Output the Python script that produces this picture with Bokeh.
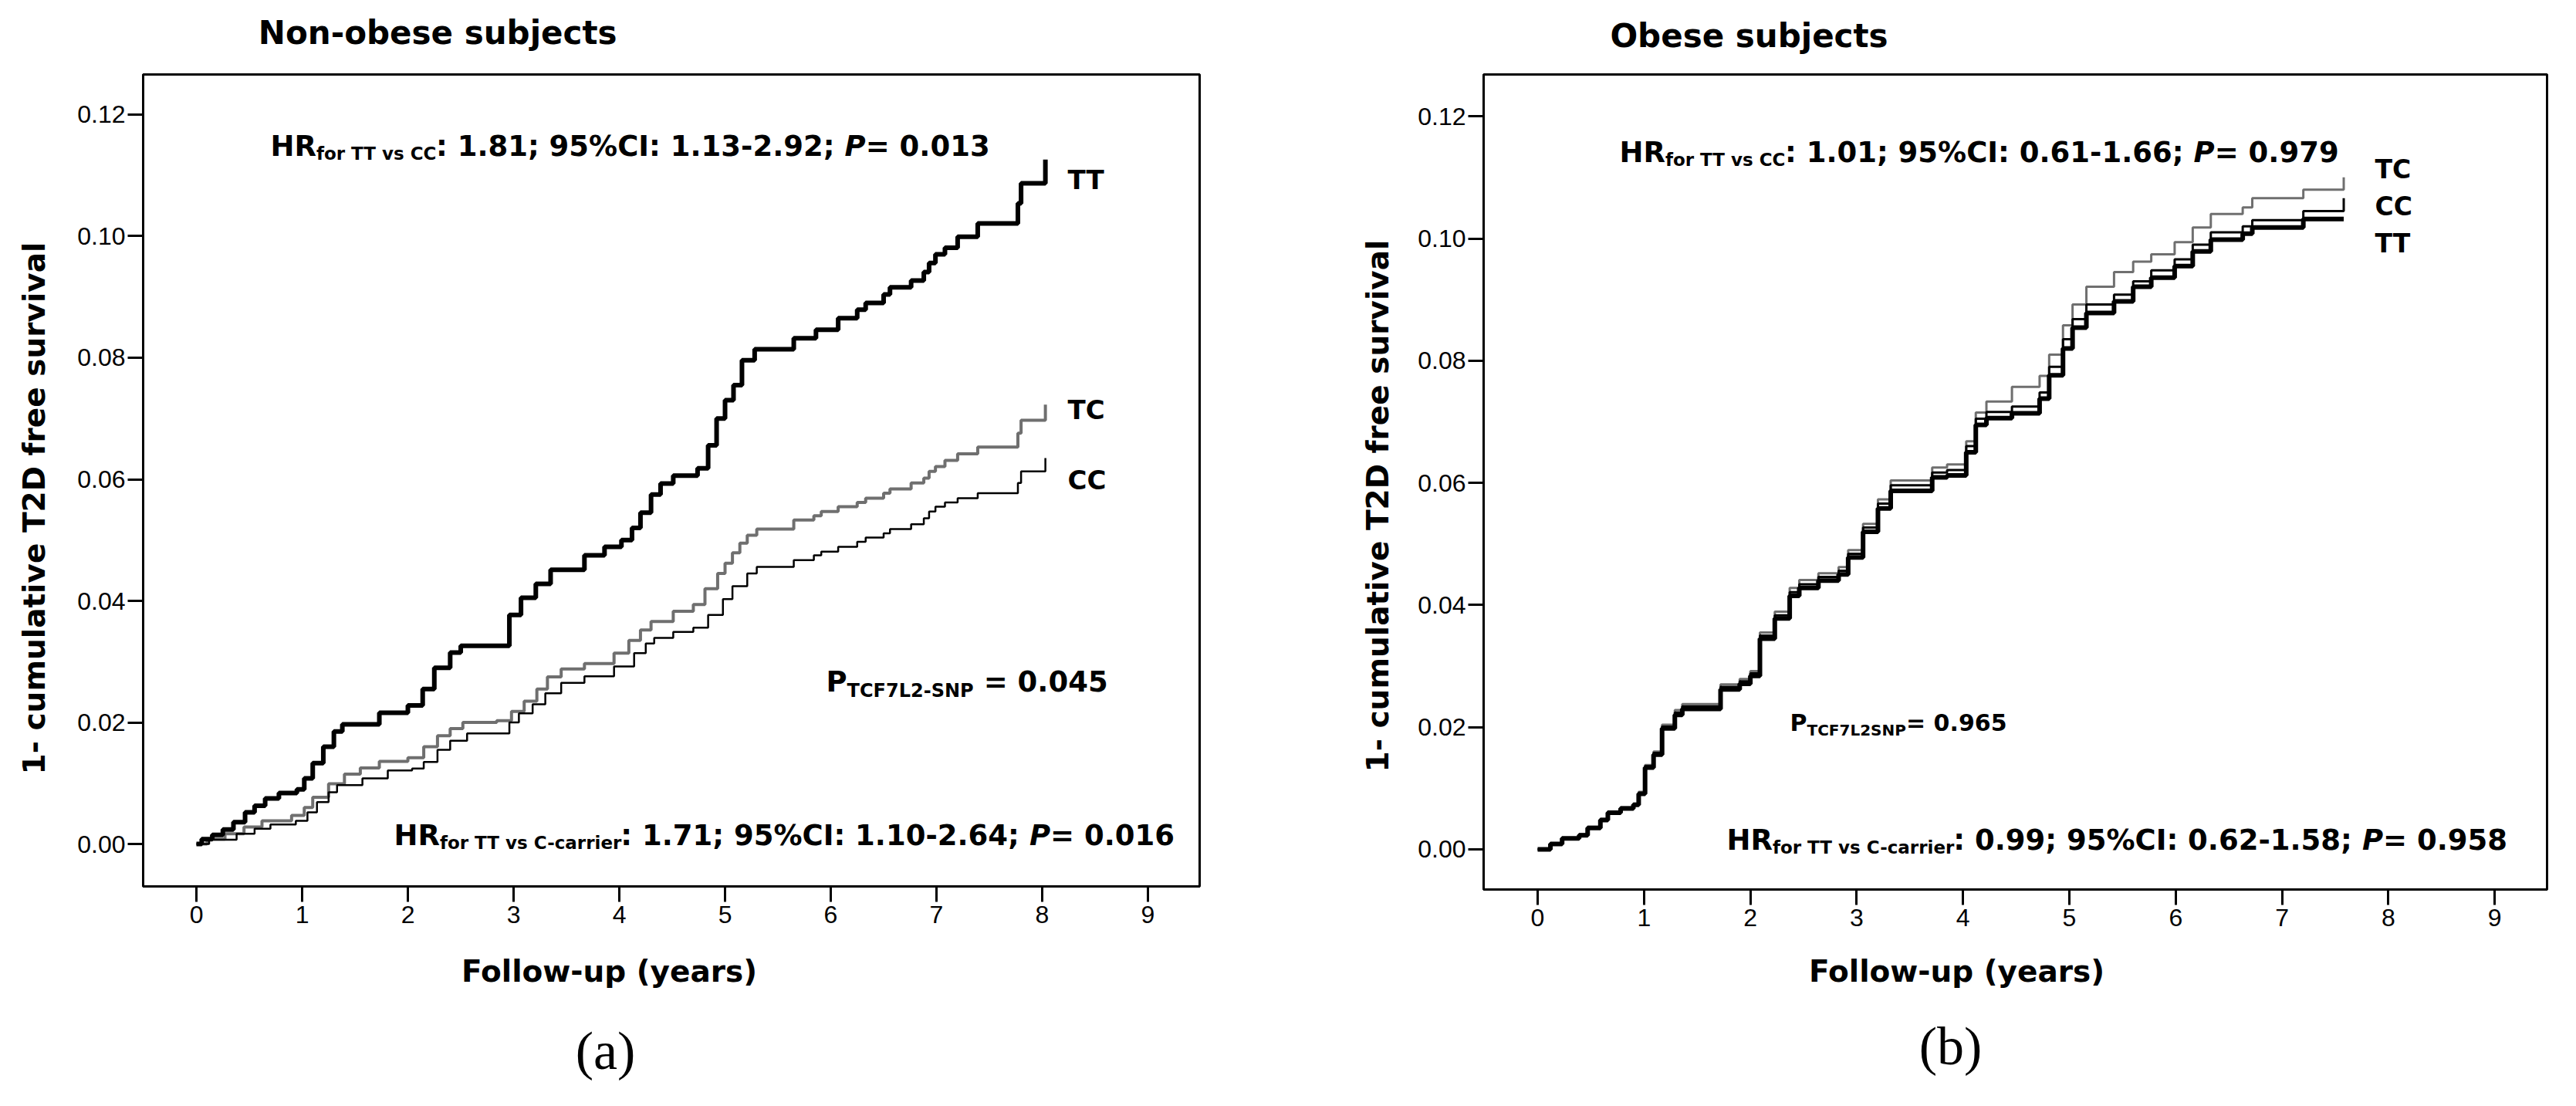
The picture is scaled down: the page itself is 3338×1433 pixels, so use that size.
import math
from bokeh.plotting import figure
from bokeh.models import Label, FixedTicker, Range1d
from bokeh.layouts import row, column
from bokeh.embed import file_html
from bokeh.resources import INLINE

# ---------------- data ----------------
x_ticks = [0, 1, 2, 3, 4, 5, 6, 7, 8, 9]
x_tick_labels = ["0", "1", "2", "3", "4", "5", "6", "7", "8", "9"]
y_ticks = [0.0, 0.02, 0.04, 0.06, 0.08, 0.10, 0.12]
y_tick_labels = ["0.00", "0.02", "0.04", "0.06", "0.08", "0.10", "0.12"]

# (a) Non-obese subjects
a_tt_t = [0, 0.05, 0.15, 0.25, 0.35, 0.46, 0.55, 0.65, 0.78, 0.95, 1.02, 1.10, 1.20, 1.30, 1.38,
          1.73, 2.00, 2.14, 2.25, 2.40, 2.50, 2.96, 3.07, 3.21, 3.35, 3.67, 3.86, 4.02, 4.12,
          4.20, 4.30, 4.39, 4.51, 4.74, 4.84, 4.92, 5.00, 5.08, 5.16, 5.28, 5.65, 5.86, 6.07,
          6.25, 6.33, 6.50, 6.56, 6.76, 6.88, 6.93, 6.99, 7.08, 7.20, 7.39, 7.77, 7.80, 8.03]
a_tt_v = [0, 0.0008, 0.0015, 0.0024, 0.0036, 0.0052, 0.0063, 0.0075, 0.0084, 0.0090, 0.0108,
          0.0133, 0.0160, 0.0185, 0.0197, 0.0216, 0.0228, 0.0255, 0.0290, 0.0315, 0.0326,
          0.0377, 0.0405, 0.0428, 0.0451, 0.0475, 0.0489, 0.0500, 0.0520, 0.0545, 0.0575,
          0.0593, 0.0606, 0.0618, 0.0656, 0.0700, 0.0730, 0.0755, 0.0796, 0.0814, 0.0832,
          0.0846, 0.0865, 0.0879, 0.0890, 0.0904, 0.0916, 0.0927, 0.0941, 0.0956, 0.0970,
          0.0981, 0.0999, 0.1021, 0.1054, 0.1087, 0.1126]

a_tc_t = [0, 0.10, 0.27, 0.45, 0.62, 0.90, 1.02, 1.10, 1.25, 1.40, 1.55, 1.73, 2.00, 2.15, 2.28,
          2.40, 2.52, 2.84, 2.98, 3.10, 3.22, 3.32, 3.45, 3.67, 3.95, 4.09, 4.20, 4.30, 4.51,
          4.70, 4.81, 4.93, 5.00, 5.07, 5.14, 5.21, 5.30, 5.65, 5.84, 5.91, 6.07, 6.25, 6.33,
          6.50, 6.56, 6.76, 6.88, 6.93, 6.99, 7.08, 7.20, 7.39, 7.77, 7.80, 8.03]
a_tc_v = [0, 0.0008, 0.0017, 0.0028, 0.0038, 0.0047, 0.0060, 0.0077, 0.0099, 0.0115, 0.0125,
          0.0136, 0.0142, 0.0160, 0.0178, 0.0190, 0.0200, 0.0203, 0.0218, 0.0235, 0.0255,
          0.0275, 0.0288, 0.0297, 0.0314, 0.0335, 0.0352, 0.0366, 0.0383, 0.0394, 0.0420,
          0.0445, 0.0462, 0.0479, 0.0495, 0.0508, 0.0518, 0.0533, 0.0540, 0.0547, 0.0555,
          0.0562, 0.0569, 0.0577, 0.0584, 0.0594, 0.0602, 0.0613, 0.0621, 0.0631, 0.0642,
          0.0653, 0.0676, 0.0697, 0.0723]

a_cc_t = [0, 0.12, 0.38, 0.55, 0.70, 0.94, 1.05, 1.14, 1.25, 1.33, 1.57, 1.81, 2.04, 2.15, 2.28,
          2.40, 2.56, 2.96, 3.05, 3.18, 3.30, 3.45, 3.67, 3.95, 4.14, 4.25, 4.33, 4.51, 4.70,
          4.84, 4.98, 5.07, 5.21, 5.30, 5.65, 5.84, 5.91, 6.07, 6.25, 6.33, 6.50, 6.56, 6.76,
          6.88, 6.93, 6.99, 7.08, 7.20, 7.39, 7.77, 7.80, 8.03]
a_cc_v = [0, 0.0007, 0.0017, 0.0025, 0.0032, 0.0038, 0.0052, 0.0069, 0.0085, 0.0097, 0.0108,
          0.0121, 0.0124, 0.0135, 0.0155, 0.0170, 0.0182, 0.0200, 0.0215, 0.0230, 0.0248,
          0.0265, 0.0276, 0.0292, 0.0314, 0.0330, 0.0339, 0.0349, 0.0356, 0.0377, 0.0403,
          0.0424, 0.0445, 0.0456, 0.0467, 0.0475, 0.0481, 0.0489, 0.0497, 0.0504, 0.0511,
          0.0518, 0.0526, 0.0536, 0.0547, 0.0555, 0.0562, 0.0569, 0.0577, 0.0594, 0.0613,
          0.0635]

# (b) Obese subjects
b_t = [0, 0.12, 0.23, 0.39, 0.47, 0.59, 0.66, 0.78, 0.90, 0.95, 1.01, 1.09, 1.17, 1.29, 1.36,
       1.72, 1.90, 2.00, 2.09, 2.23, 2.37, 2.46, 2.64, 2.83, 2.92, 3.06, 3.20, 3.32, 3.71,
       3.85, 4.03, 4.12, 4.22, 4.46, 4.72, 4.81, 4.94, 5.03, 5.16, 5.42, 5.60, 5.77, 5.99,
       6.16, 6.33, 6.63, 6.72, 7.20, 7.58]
b_tt_v = [0, 0.0009, 0.0018, 0.0023, 0.0035, 0.0048, 0.0060, 0.0067, 0.0073, 0.0091, 0.0134,
          0.0155, 0.0198, 0.0220, 0.0230, 0.0262, 0.0271, 0.0284, 0.0345, 0.0378, 0.0415,
          0.0428, 0.0440, 0.0450, 0.0478, 0.0520, 0.0558, 0.0587, 0.0609, 0.0612, 0.0650,
          0.0695, 0.0706, 0.0714, 0.0738, 0.0776, 0.0820, 0.0854, 0.0878, 0.0897, 0.0921,
          0.0936, 0.0955, 0.0979, 0.0998, 0.1008, 0.1018, 0.1032, 0.1032]
b_cc_v = [0, 0.0009, 0.0018, 0.0024, 0.0036, 0.0049, 0.0061, 0.0068, 0.0074, 0.0092, 0.0136,
          0.0158, 0.0201, 0.0224, 0.0234, 0.0266, 0.0275, 0.0288, 0.0350, 0.0383, 0.0421,
          0.0434, 0.0446, 0.0456, 0.0484, 0.0527, 0.0566, 0.0596, 0.0617, 0.0621, 0.0660,
          0.0705, 0.0716, 0.0725, 0.0748, 0.0790, 0.0835, 0.0868, 0.0892, 0.0908, 0.0930,
          0.0948, 0.0966, 0.0990, 0.1010, 0.1020, 0.1030, 0.1045, 0.1066]
b_tc_v = [0, 0.0010, 0.0019, 0.0025, 0.0037, 0.0050, 0.0062, 0.0069, 0.0075, 0.0094, 0.0138,
          0.0160, 0.0204, 0.0228, 0.0238, 0.0270, 0.0279, 0.0292, 0.0355, 0.0389, 0.0428,
          0.0441, 0.0452, 0.0462, 0.0490, 0.0533, 0.0573, 0.0604, 0.0625, 0.0630, 0.0668,
          0.0715, 0.0733, 0.0757, 0.0775, 0.0810, 0.0858, 0.0892, 0.0921, 0.0945, 0.0962,
          0.0974, 0.0994, 0.1018, 0.1040, 0.1051, 0.1066, 0.1080, 0.1100]

# ---------------- styling helpers ----------------
BOLD = "DejaVu Sans"
TICK_FONT = "Liberation Sans"
GRAY = "#6f6f6f"

# DejaVu Sans Bold advance widths (em)
W = {" ": .348, "%": 1.002, "-": .415, ".": .381, ":": .400, ";": .400, "=": .838,
     "C": .734, "F": .689, "H": .837, "I": .372, "L": .637, "N": .837, "P": .733, "R": .770,
     "S": .722, "T": .683, "a": .675, "c": .593, "e": .678, "f": .435, "i": .343, "o": .687,
     "r": .493, "s": .595, "v": .652}
for d in "0123456789":
    W[d] = .696


def tw(s, size):
    return sum(W.get(ch, .65) for ch in s) * size


def put(p, fr, X, Y, text, size, align="left", baseline="alphabetic", style="bold",
        font=BOLD, angle=0.0):
    # X, Y: position in the 3338x1433 picture; fr: picture position of the frame's
    # bottom-left corner of the figure holding the label
    p.add_layout(Label(x=X - fr[0], y=fr[1] - Y, x_units="screen", y_units="screen",
                       text=text, text_font=font, text_font_size=f"{size}px",
                       text_font_style=style, text_align=align, text_baseline=baseline,
                       angle=angle, text_color="black"))


def rich(p, fr, X, Y, segs):
    for text, size, style, dy in segs:
        core = text.strip()
        lead = text[:len(text) - len(text.lstrip())]
        trail = text[len(text.rstrip()):]
        X += tw(lead, size)
        put(p, fr, X, Y + dy, core, size, style=style)
        X += tw(core, size) + tw(trail, size)


def make_panel(x0, x1, y0, y1, left, right, top, bottom, fw, fh):
    p = figure(output_backend="svg", toolbar_location=None, frame_width=fw, frame_height=fh,
               min_border_left=left, min_border_right=right, min_border_top=top,
               min_border_bottom=bottom, x_range=Range1d(x0, x1), y_range=Range1d(y0, y1),
               background_fill_color="white", border_fill_color="white")
    p.grid.visible = False
    p.outline_line_color = "black"
    p.outline_line_width = 3
    p.xaxis.ticker = FixedTicker(ticks=x_ticks)
    p.yaxis.ticker = FixedTicker(ticks=y_ticks)
    p.xaxis.major_label_overrides = {t: l for t, l in zip(x_ticks, x_tick_labels)}
    p.yaxis.major_label_overrides = {t: l for t, l in zip(y_ticks, y_tick_labels)}
    for ax in (p.xaxis[0], p.yaxis[0]):
        ax.axis_line_color = "black"
        ax.axis_line_width = 3
        ax.major_tick_line_color = "black"
        ax.major_tick_line_width = 3
        ax.major_tick_out = 20
        ax.major_tick_in = 0
        ax.minor_tick_line_color = None
        ax.major_label_text_font = TICK_FONT
        ax.major_label_text_font_size = "32px"
        ax.major_label_text_color = "black"
    p.xaxis.major_label_standoff = 5
    p.yaxis.major_label_standoff = 3
    return p


def strip(w, h):
    s = figure(output_backend="svg", toolbar_location=None, frame_width=w, frame_height=h,
               min_border=0, x_range=Range1d(0, w), y_range=Range1d(0, h),
               x_axis_type=None, y_axis_type=None, border_fill_color="white")
    s.outline_line_color = None
    s.grid.visible = False
    return s


def hr_line(p, fr, X, Y, sub, rest, pval, main=37, small=23, dy=9):
    rich(p, fr, X, Y, [("HR", main, "bold", 0), (sub, small, "bold", dy),
                       (rest, main, "bold", 0), ("P", main, "bold italic", 0),
                       (pval, main, "bold", 0)])


# ---------------- panel (a) ----------------
pa = make_panel(-0.504, 9.489, -0.00698, 0.1266, 90, 20, 4, 72, 1369, 1052)
pa.step(a_tc_t, a_tc_v, mode="after", line_color=GRAY, line_width=4)
pa.step(a_cc_t, a_cc_v, mode="after", line_color="black", line_width=2.5)
pa.step(a_tt_t, a_tt_v, mode="after", line_color="black", line_width=6)
fa = (193, 1152)
hr_line(pa, fa, 358, 193, "for TT vs CC", ": 1.81; 95%CI: 1.13-2.92; ", "= 0.013")
hr_line(pa, fa, 518, 1086, "for TT vs C-carrier", ": 1.71; 95%CI: 1.10-2.64; ", "= 0.016")
rich(pa, fa, 1078, 887, [("P", 37, "bold", 0), ("TCF7L2-SNP", 24, "bold", 11),
                         (" = 0.045", 37, "bold", 0)])
put(pa, fa, 1391, 236, "TT", 34)
put(pa, fa, 1391, 534, "TC", 34)
put(pa, fa, 1391, 625, "CC", 34)

# ---------------- panel (b) ----------------
pb = make_panel(-0.508, 9.492, -0.00657, 0.12685, 100, 22, 8, 64, 1378, 1056)
pb.step(b_t, b_tc_v, mode="after", line_color=GRAY, line_width=3)
pb.step(b_t, b_tt_v, mode="after", line_color="black", line_width=6)
pb.step(b_t, b_cc_v, mode="after", line_color="black", line_width=3)
fb = (1930, 1160)
hr_line(pb, fb, 2106, 205, "for TT vs CC", ": 1.01; 95%CI: 0.61-1.66; ", "= 0.979")
hr_line(pb, fb, 2245, 1096, "for TT vs C-carrier", ": 0.99; 95%CI: 0.62-1.58; ", "= 0.958")
rich(pb, fb, 2327, 944, [("P", 30, "bold", 0), ("TCF7L2SNP", 20, "bold", 9),
                         ("= 0.965", 30, "bold", 0)])
put(pb, fb, 3085, 227, "TC", 33)
put(pb, fb, 3085, 275, "CC", 33)
put(pb, fb, 3085, 323, "TT", 33)

# ---------------- text strips around the panels ----------------
top = strip(3322, 88)
ft = (8, 96)
put(top, ft, 582, 50, "Non-obese  subjects", 42, align="center")
put(top, ft, 2274, 54, "Obese subjects", 42, align="center")

left = strip(95, 1128)
fl = (8, 1224)
put(left, fl, 52, 658, "1- cumulative T2D free survival", 39, align="center", angle=math.pi / 2)

mid = strip(248, 1128)
fm = (1582, 1224)
put(mid, fm, 1793, 655, "1- cumulative T2D free survival", 39, align="center", angle=math.pi / 2)

bottom = strip(3322, 201)
fbt = (8, 1425)
put(bottom, fbt, 797, 1266, "Follow-up (years)", 39, align="center")
put(bottom, fbt, 2543, 1266, "Follow-up (years)", 39, align="center")
put(bottom, fbt, 792, 1369, "(a)", 70, align="center", baseline="middle", style="normal",
    font="Liberation Serif")
put(bottom, fbt, 2535, 1363, "(b)", 70, align="center", baseline="middle", style="normal",
    font="Liberation Serif")

layout = column(top, row(left, pa, mid, pb), bottom)
open("out.html", "w").write(file_html(layout, INLINE))
